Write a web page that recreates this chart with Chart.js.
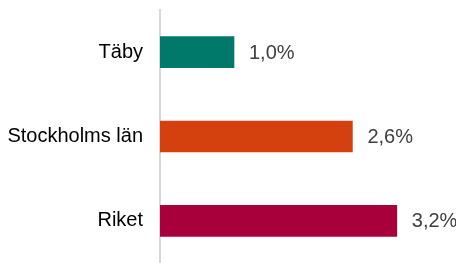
<!DOCTYPE html>
<html>
<head>
<meta charset="utf-8">
<script src="https://cdn.jsdelivr.net/npm/chart.js@4"></script>
<style>
  html, body { margin: 0; padding: 0; background: #fff; overflow: hidden; }
  canvas { display: block; }
</style>
</head>
<body>
<canvas id="chart" width="456" height="263"></canvas>
<script>
// data
const regions = ['Täby', 'Stockholms län', 'Riket'];
const growth = [1.0, 2.6, 3.2];
const barColors = ['#00796B', '#D5400F', '#A8003A'];

// draws the "1,0%" labels after each bar
const valueLabels = {
    id: 'valueLabels',
    afterDatasetsDraw(chart) {
        const ctx = chart.ctx;
        const meta = chart.getDatasetMeta(0);
        ctx.save();
        ctx.font = '20px "Liberation Sans", Arial, sans-serif';
        ctx.fillStyle = '#404040';
        ctx.textAlign = 'left';
        ctx.textBaseline = 'middle';
        meta.data.forEach((bar, i) => {
            const txt = growth[i].toFixed(1).replace('.', ',') + '%';
            ctx.fillText(txt, bar.x + 15, bar.y + 1);
        });
        ctx.restore();
    }
};

const ctx = document.getElementById('chart').getContext('2d');
const chart = new Chart(ctx, {
    type: 'bar',
    data: {
        labels: regions,
        datasets: [{
            data: growth,
            backgroundColor: barColors,
            borderWidth: 0,
            barThickness: 31
        }]
    },
    options: {
        indexAxis: 'y',
        responsive: false,
        animation: false,
        layout: { padding: { top: 10, right: 0, bottom: 0, left: 0 } },
        plugins: {
            legend: { display: false },
            tooltip: { enabled: false }
        },
        scales: {
            x: {
                display: false,
                min: 0,
                max: 4
            },
            y: {
                grid: { display: false, drawTicks: false },
                border: { display: true, color: '#d9d9d9', width: 2 },
                ticks: {
                    color: '#000',
                    padding: 17,
                    font: { family: '"Liberation Sans", Arial, sans-serif', size: 20 }
                },
                afterFit(scale) {
                    scale.width = 160;
                    scale.paddingTop = 0;
                    scale.paddingBottom = 0;
                }
            }
        }
    },
    plugins: [valueLabels]
});
</script>
</body>
</html>
